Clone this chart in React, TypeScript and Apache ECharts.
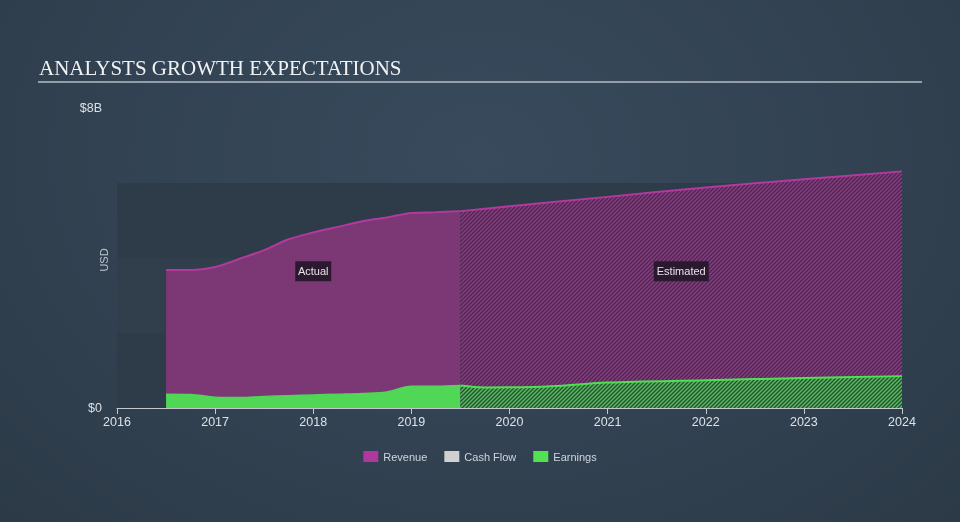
import React, { useEffect, useRef } from "react";
import * as echarts from "echarts";

// Time in fractional years, values in billions USD
const revenueActualT = [2016.5, 2016.75, 2017.0, 2017.25, 2017.5, 2017.75, 2018.0, 2018.25, 2018.5, 2018.75, 2019.0, 2019.25, 2019.5];
const revenueActualV = [3.68, 3.68, 3.76, 3.98, 4.21, 4.5, 4.68, 4.83, 4.98, 5.08, 5.2, 5.22, 5.25];
const revenueEstT = [2019.5, 2020.0, 2021.0, 2022.0, 2023.0, 2024.0];
const revenueEstV = [5.25, 5.38, 5.63, 5.88, 6.1, 6.31];
const earningsActualT = [2016.5, 2016.75, 2017.0, 2017.25, 2017.5, 2017.75, 2018.0, 2018.25, 2018.5, 2018.75, 2019.0, 2019.25, 2019.5];
const earningsActualV = [0.37, 0.36, 0.29, 0.28, 0.31, 0.33, 0.35, 0.37, 0.39, 0.43, 0.58, 0.58, 0.6];
const earningsEstT = [2019.5, 2019.75, 2020.25, 2021.0, 2022.0, 2023.0, 2024.0];
const earningsEstV = [0.6, 0.55, 0.56, 0.68, 0.74, 0.8, 0.85];
const cashFlowV: number[][] = [];
const legendNames = ["Revenue", "Cash Flow", "Earnings"];
const yTicksShown = [0, 8];
const regionLabels = [
  { name: "Actual", t: 2018.0, v: 3.65, w: 36 },
  { name: "Estimated", t: 2021.75, v: 3.65, w: 55 },
];

const zip = (t: number[], v: number[]) => t.map((x, i) => [x, v[i]]);

function makeHatch(bg: string, fg: string) {
  const c = document.createElement("canvas");
  c.width = 4;
  c.height = 4;
  const ctx = c.getContext("2d")!;
  ctx.fillStyle = bg;
  ctx.fillRect(0, 0, 4, 4);
  ctx.strokeStyle = fg;
  ctx.lineWidth = 1.4;
  ctx.beginPath();
  for (const o of [-4, 0, 4]) {
    ctx.moveTo(o - 1, 5);
    ctx.lineTo(o + 5, -1);
  }
  ctx.stroke();
  return c;
}

export default function App() {
  const ref = useRef<HTMLDivElement>(null);
  useEffect(() => {
    document.body.style.margin = "0";
    const chart = echarts.init(ref.current!, undefined, { renderer: "svg" });
    const revHatch = makeHatch("#4a2a4d", "#8e3a87");
    const earnHatch = makeHatch("#2f4b3f", "#4fc653");
    const font = "'Liberation Sans', Arial, sans-serif";
    chart.setOption({
      animation: false,
      backgroundColor: "transparent",
      textStyle: { fontFamily: font },
      title: {
        text: "ANALYSTS GROWTH EXPECTATIONS",
        left: 34,
        top: 52,
        textStyle: {
          fontFamily: "'Liberation Serif', 'Times New Roman', serif",
          fontWeight: "normal",
          fontSize: 21,
          color: "#f0f2f4",
        },
      },
      graphic: [
        {
          type: "line",
          shape: { x1: 38, y1: 82, x2: 922, y2: 82 },
          style: { stroke: "#b4bcc6", lineWidth: 1.5 },
        },
        {
          type: "text",
          x: 104,
          y: 260,
          rotation: Math.PI / 2,
          style: {
            text: "USD",
            fill: "#c0c8d0",
            font: `11px ${font}`,
            align: "center",
            verticalAlign: "middle",
          },
        },
      ],
      legend: {
        bottom: 55,
        left: "center",
        icon: "rect",
        itemWidth: 15,
        itemHeight: 11,
        itemGap: 17,
        textStyle: { color: "#cfd5db", fontSize: 11, fontFamily: font },
        data: [
          { name: legendNames[0], itemStyle: { color: "#b0379b" } },
          { name: legendNames[1], itemStyle: { color: "#d0d0d0" } },
          { name: legendNames[2], itemStyle: { color: "#53e051" } },
        ],
        selectedMode: false,
      },
      grid: { left: 117, right: 58, top: 108, bottom: 114 },
      xAxis: {
        type: "value",
        min: 2016,
        max: 2024,
        interval: 1,
        axisLine: { lineStyle: { color: "#c2c9d0", width: 1 } },
        axisTick: { show: true, length: 6, lineStyle: { color: "#c2c9d0" } },
        axisLabel: {
          color: "#dde1e5",
          fontSize: 12.5,
          margin: 7,
          formatter: (v: number) => String(Math.round(v)),
        },
        splitLine: { show: false },
      },
      yAxis: {
        type: "value",
        min: 0,
        max: 8,
        interval: 2,
        axisLine: { show: false },
        axisTick: { show: false },
        splitLine: { show: false },
        axisLabel: {
          color: "#dde1e5",
          fontSize: 12.5,
          margin: 15,
          formatter: (v: number) =>
            yTicksShown.includes(v) ? (v === 0 ? "$0" : `$${v}B`) : "",
        },
        splitArea: {
          show: true,
          areaStyle: { color: ["#2e3b48", "#313e4c", "#2e3b48", "rgba(0,0,0,0)"] },
        },
      },
      series: [
        {
          name: "Revenue",
          type: "line",
          data: zip(revenueActualT, revenueActualV),
          smooth: 0.35,
          symbol: "none",
          itemStyle: { color: "#b0379b" },
          lineStyle: { color: "#b3399e", width: 2 },
          areaStyle: { color: "#7b3874", opacity: 1 },
          markPoint: {
            symbol: "rect",
            itemStyle: { color: "#2b1a2f" },
            label: {
              show: true,
              position: "inside",
              color: "#e8e2e8",
              fontSize: 11,
              fontFamily: font,
              formatter: (p: any) => p.name,
            },
            data: regionLabels.map((r) => ({
              name: r.name,
              coord: [r.t, r.v],
              symbolSize: [r.w, 20],
            })),
          },
        },
        {
          name: "Revenue",
          type: "line",
          data: zip(revenueEstT, revenueEstV),
          smooth: 0.35,
          symbol: "none",
          itemStyle: { color: "#b0379b" },
          lineStyle: { color: "#b3399e", width: 2 },
          areaStyle: { color: { image: revHatch, repeat: "repeat" }, opacity: 1 },
        },
        {
          name: "Cash Flow",
          type: "line",
          data: cashFlowV,
          symbol: "none",
          itemStyle: { color: "#d0d0d0" },
        },
        {
          name: "Earnings",
          type: "line",
          data: zip(earningsActualT, earningsActualV),
          smooth: 0.35,
          symbol: "none",
          itemStyle: { color: "#53e051" },
          lineStyle: { color: "#50d756", width: 1.5 },
          areaStyle: { color: "#50d756", opacity: 1 },
        },
        {
          name: "Earnings",
          type: "line",
          data: zip(earningsEstT, earningsEstV),
          smooth: 0.35,
          symbol: "none",
          itemStyle: { color: "#53e051" },
          lineStyle: { color: "#4fe050", width: 2 },
          areaStyle: { color: { image: earnHatch, repeat: "repeat" }, opacity: 1 },
        },
      ],
    });
    return () => chart.dispose();
  }, []);
  return (
    <div
      style={{
        position: "fixed",
        left: 0,
        top: 0,
        width: 960,
        height: 522,
        background:
          "radial-gradient(ellipse at 50% 30%, #384a5c 0%, #324252 55%, #2c3a47 100%)",
      }}
    >
      <div ref={ref} style={{ width: 960, height: 522 }} />
    </div>
  );
}
